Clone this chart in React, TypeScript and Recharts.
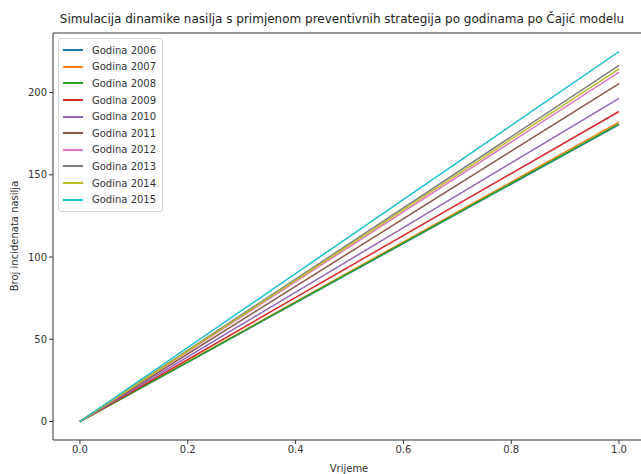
import React from 'react';
import { LineChart, Line, XAxis, YAxis, ReferenceLine } from 'recharts';

// time points of the simulation
const vrijeme = [0, 1];

const godine = ['2006', '2007', '2008', '2009', '2010', '2011', '2012', '2013', '2014', '2015'];

// number of incidents per year, at each time point
const godina2006 = [0, 180.5];
const godina2007 = [0, 182];
const godina2008 = [0, 181];
const godina2009 = [0, 188.5];
const godina2010 = [0, 196.5];
const godina2011 = [0, 205.5];
const godina2012 = [0, 212.5];
const godina2013 = [0, 216.5];
const godina2014 = [0, 214.5];
const godina2015 = [0, 225];

const serije = [
  godina2006, godina2007, godina2008, godina2009, godina2010,
  godina2011, godina2012, godina2013, godina2014, godina2015,
];

const xTicks = [0, 0.2, 0.4, 0.6, 0.8, 1.0];
const yTicks = [0, 50, 100, 150, 200];

const colors = [
  '#1f77b4', '#ff7f0e', '#2ca02c', '#d62728', '#9467bd',
  '#8c564b', '#e377c2', '#7f7f7f', '#bcbd22', '#17becf',
];

const data = vrijeme.map((t, i) => {
  const row: Record<string, number> = { t };
  godine.forEach((g, k) => {
    row[g] = serije[k][i];
  });
  return row;
});

const font = '"DejaVu Sans", sans-serif';
const axisColor = '#333';

// legend drawn over the plot, like matplotlib's "upper left"
function LegendBox() {
  return (
    <div
      style={{
        position: 'absolute',
        left: 58,
        top: 38,
        border: '1px solid #d6d6d6',
        borderRadius: 3,
        background: 'rgba(255,255,255,0.85)',
        padding: '3px 6px 3px 4px',
        fontSize: 10,
        color: '#333',
        zIndex: 2,
      }}
    >
      {godine.map((g, i) => (
        <div key={g} style={{ display: 'flex', alignItems: 'center', height: 16.6 }}>
          <span
            style={{
              display: 'inline-block',
              width: 20,
              height: 0,
              borderTop: `2px solid ${colors[i]}`,
              marginRight: 9,
            }}
          />
          <span>Godina {g}</span>
        </div>
      ))}
    </div>
  );
}

export default function App() {
  return (
    <div
      style={{
        position: 'absolute',
        left: 0,
        top: 0,
        width: 641,
        height: 474,
        overflow: 'hidden',
        background: '#fff',
        fontFamily: font,
      }}
    >
      <div
        style={{
          position: 'absolute',
          left: 342,
          top: 19,
          transform: 'translate(-50%, -50%)',
          fontSize: 12,
          color: '#222',
          whiteSpace: 'nowrap',
        }}
      >
        Simulacija dinamike nasilja s primjenom preventivnih strategija po godinama po Čajić modelu
      </div>
      <div
        style={{
          position: 'absolute',
          left: 14,
          top: 236,
          transform: 'translate(-50%, -50%) rotate(-90deg)',
          fontSize: 10,
          color: '#333',
          whiteSpace: 'nowrap',
        }}
      >
        Broj incidenata nasilja
      </div>
      <div
        style={{
          position: 'absolute',
          left: 349,
          top: 468,
          transform: 'translate(-50%, -50%)',
          fontSize: 10,
          color: '#333',
        }}
      >
        Vrijeme
      </div>
      <LineChart
        width={660}
        height={474}
        data={data}
        margin={{ top: 33, right: 14, left: 0, bottom: 0 }}
      >
        <XAxis
          dataKey="t"
          type="number"
          domain={[-0.05, 1.05]}
          allowDataOverflow
          ticks={xTicks}
          tickFormatter={(v) => Number(v).toFixed(1)}
          height={34}
          tickSize={4}
          axisLine={{ stroke: axisColor }}
          tickLine={{ stroke: axisColor }}
          tick={{ fill: '#333', fontSize: 10, fontFamily: font }}
          interval={0}
        />
        <YAxis
          type="number"
          domain={[-11.25, 236.25]}
          allowDataOverflow
          ticks={yTicks}
          width={53}
          tickSize={4}
          axisLine={{ stroke: axisColor }}
          tickLine={{ stroke: axisColor }}
          tick={{ fill: '#333', fontSize: 10, fontFamily: font }}
          interval={0}
        />
        <ReferenceLine y={236.25} stroke={axisColor} ifOverflow="visible" />
        {godine.map((g, i) => (
          <Line
            key={g}
            type="linear"
            dataKey={g}
            stroke={colors[i]}
            strokeWidth={1.5}
            dot={false}
            isAnimationActive={false}
            name={`Godina ${g}`}
          />
        ))}
      </LineChart>
      <LegendBox />
    </div>
  );
}
